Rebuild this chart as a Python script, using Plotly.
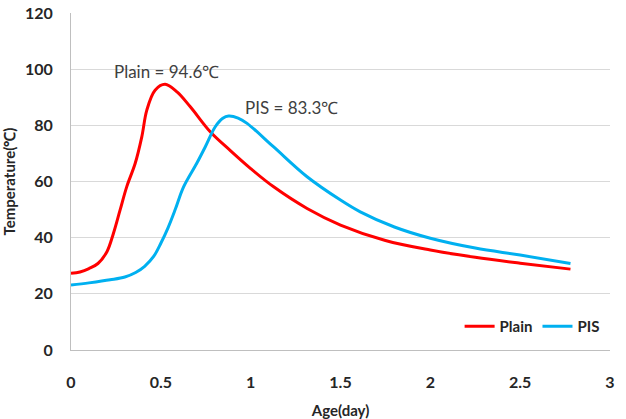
import plotly.graph_objects as go

plain_x = [0, 0.05, 0.1, 0.15, 0.2, 0.236, 0.273, 0.31, 0.357, 0.394, 0.422, 0.468, 0.524, 0.59, 0.664, 0.775, 0.887, 1.0, 1.128, 1.314, 1.5, 1.75, 2.0, 2.25, 2.5, 2.78]
plain_y = [27.3, 27.8, 29, 30.8, 35, 41.5, 49.8, 58.1, 66.4, 75.9, 85.4, 92.5, 94.6, 91.9, 86.6, 77.7, 71.0, 64.6, 58.1, 50.4, 44.5, 39, 35.6, 33, 30.9, 28.8]

pis_x = [0, 0.1, 0.218, 0.3, 0.36, 0.41, 0.46, 0.5, 0.54, 0.58, 0.626, 0.70, 0.747, 0.803, 0.845, 0.877, 0.93, 0.98, 1.128, 1.314, 1.5, 1.61, 1.8, 2.0, 2.25, 2.5, 2.78]
pis_y = [23.1, 23.9, 25.0, 26.0, 27.6, 29.8, 33.3, 38, 43.5, 50, 58, 66.5, 72.3, 79.5, 82.5, 83.3, 82.6, 80.7, 72.3, 61.7, 53.4, 49.2, 43.8, 39.8, 36.3, 33.8, 30.8]

x_ticks = [0, 0.5, 1, 1.5, 2, 2.5, 3]
x_tick_labels = ["0", "0.5", "1", "1.5", "2", "2.5", "3"]
y_ticks = [0, 20, 40, 60, 80, 100, 120]

peak_labels = [("Plain = 94.6℃", 0.53, 99.3), ("PIS = 83.3℃", 1.225, 86.5)]

FONT = "Lato"
TXT = "#262626"

fig = go.Figure()
fig.add_trace(go.Scatter(x=plain_x, y=plain_y, mode="lines", name="Plain",
                         line=dict(color="#ff0000", width=3, shape="spline", smoothing=1)))
fig.add_trace(go.Scatter(x=pis_x, y=pis_y, mode="lines", name="PIS",
                         line=dict(color="#00b0f0", width=3, shape="spline", smoothing=1)))

for text, ax, ay in peak_labels:
    fig.add_annotation(x=ax, y=ay, text=text, showarrow=False,
                       font=dict(family=FONT, size=17, color="#404040"))

fig.update_layout(
    width=626, height=419,
    margin=dict(l=71, r=16, t=13, b=69),
    paper_bgcolor="white", plot_bgcolor="white",
    font=dict(family=FONT, color=TXT),
    showlegend=True,
    legend=dict(orientation="h", x=0.99, xanchor="right", y=0.07, yanchor="middle",
                font=dict(family=FONT, size=15, color=TXT, weight="bold"),
                bgcolor="rgba(0,0,0,0)", itemwidth=30, tracegroupgap=0),
    xaxis=dict(range=[0, 3], tickvals=x_ticks, ticktext=x_tick_labels,
               showgrid=False, showline=True, linecolor="#bfbfbf", linewidth=1,
               ticks="outside", ticklen=0, ticklabelstandoff=18, automargin=False,
               tickfont=dict(family=FONT, size=16, color=TXT, weight="bold"),
               title=dict(text="Age(day)", standoff=18,
                          font=dict(family=FONT, size=15, color=TXT, weight="bold")),
               zeroline=False),
    yaxis=dict(range=[0, 120], tickvals=y_ticks,
               showgrid=True, gridcolor="#d9d9d9", gridwidth=1,
               showline=True, linecolor="#bfbfbf", linewidth=1,
               ticks="outside", ticklen=0, ticklabelstandoff=14, automargin=False,
               tickfont=dict(family=FONT, size=16, color=TXT, weight="bold"),
               title=dict(text="Temperature(℃)", standoff=12,
                          font=dict(family=FONT, size=15, color=TXT, weight="bold")),
               zeroline=False),
)

fig.write_html("out.html")
